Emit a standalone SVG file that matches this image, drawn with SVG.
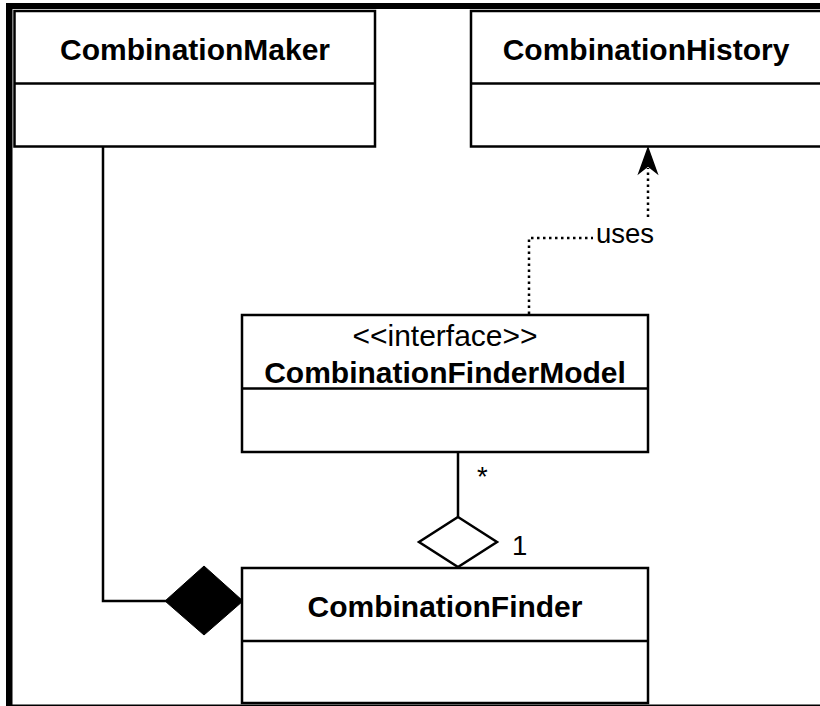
<svg xmlns="http://www.w3.org/2000/svg" width="820" height="706" viewBox="0 0 820 706">
<style>
.box{fill:#fff;stroke:#000;stroke-width:2.5}
.div{stroke:#000;stroke-width:2.5}
.name{font-family:"Liberation Sans",Arial,sans-serif;font-weight:bold;font-size:30px;text-anchor:middle;fill:#000}
.stereo{font-family:"Liberation Sans",Arial,sans-serif;font-size:30px;text-anchor:middle;fill:#000}
.lbl{font-family:"Liberation Sans",Arial,sans-serif;font-size:27.5px;fill:#000}
.line{fill:none;stroke:#000;stroke-width:2.5}
.dot{fill:none;stroke:#000;stroke-width:2.5;stroke-dasharray:2.5 3.5}
</style>
<rect x="0" y="0" width="820" height="706" fill="#fff"/>
<rect x="6" y="3" width="814" height="6" fill="#000"/>
<rect x="6" y="3" width="6.5" height="703" fill="#000"/>
<rect x="6" y="704.5" width="814" height="2" fill="#000"/>

<g id="CombinationMaker">
<rect class="box" x="14.5" y="11" width="360.5" height="135.5"/>
<line class="div" x1="14.5" y1="83.5" x2="375" y2="83.5"/>
<text class="name" x="195" y="60">CombinationMaker</text>
</g>

<g id="CombinationHistory">
<rect class="box" x="471" y="11" width="352" height="135.5"/>
<line class="div" x1="471" y1="83.5" x2="823" y2="83.5"/>
<text class="name" x="646" y="60">CombinationHistory</text>
</g>

<g id="CombinationFinderModel">
<rect class="box" x="242" y="315" width="406" height="137"/>
<line class="div" x1="242" y1="388.5" x2="648" y2="388.5"/>
<text class="stereo" x="445" y="346">&lt;&lt;interface&gt;&gt;</text>
<text class="name" x="445" y="383">CombinationFinderModel</text>
</g>

<g id="CombinationFinder">
<rect class="box" x="242" y="568" width="406" height="135"/>
<line class="div" x1="242" y1="641" x2="648" y2="641"/>
<text class="name" x="445" y="617">CombinationFinder</text>
</g>

<g id="connectors">
<path class="line" d="M103,147 V601 H166"/>
<polygon points="165,601 204,566 243,601 204,635" fill="#000" stroke="#000" stroke-width="1"/>

<path class="line" d="M458,452 V517"/>
<polygon points="458,517 497,542 458,567 419,542" fill="#fff" stroke="#000" stroke-width="2.5" stroke-linejoin="miter"/>
<text class="lbl" x="477" y="486">*</text>
<text class="lbl" x="512" y="555">1</text>

<path class="dot" d="M529,314 V238 H648 V168"/>
<polygon points="648,148 657,173 648,166 639,173" fill="#000" stroke="#000" stroke-width="1.5" stroke-linejoin="miter"/>
<rect x="593" y="219" width="61" height="38" fill="#fff"/>
<text class="lbl" x="596" y="243">uses</text>
</g>
</svg>
